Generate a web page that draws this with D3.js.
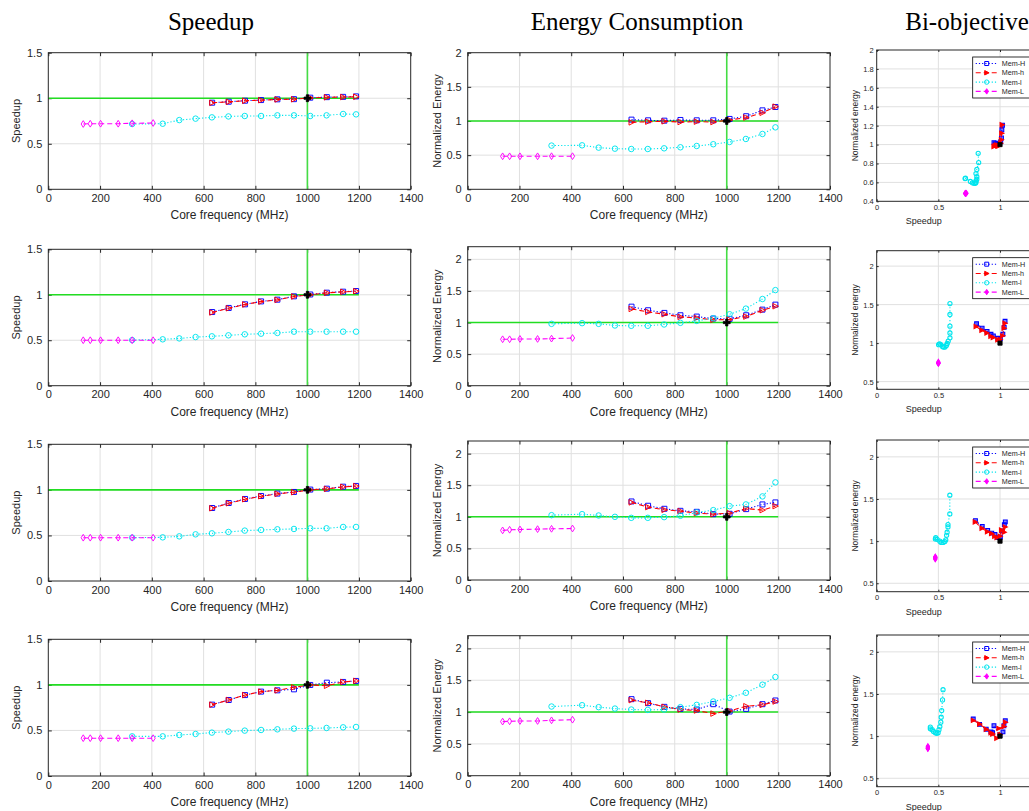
<!DOCTYPE html>
<html><head><meta charset="utf-8">
<script src="https://cdn.jsdelivr.net/npm/d3@7"></script>
<style>body{margin:0;background:#fff}svg{display:block}</style>
</head><body><svg id="c" width="1029" height="811"></svg>
<script>
// ---------- data ----------
const columnTitles = ["Speedup", "Energy Consumption", "Bi-objective"];
const seriesNames = ["Mem-H", "Mem-h", "Mem-l", "Mem-L"];
const freqHigh = [633, 697, 760, 822, 885, 949, 1012, 1076, 1139, 1189]; // Mem-H and Mem-h
const freqMemL = [324, 442, 506, 569, 632, 696, 759, 822, 885, 949, 1012, 1075, 1139, 1189]; // Mem-l
const freqMemLL = [135, 162, 202, 270, 324, 405]; // Mem-L
const defaultFreq = 1001, defaultSpeedup = 1, defaultEnergy = 1;

const speedupH = [
  [0.951, 0.962, 0.973, 0.980, 0.988, 0.990, 1.006, 1.012, 1.015, 1.020],
  [0.810, 0.855, 0.895, 0.927, 0.946, 0.983, 1.003, 1.023, 1.034, 1.041],
  [0.801, 0.856, 0.900, 0.933, 0.959, 0.977, 1.003, 1.013, 1.035, 1.043],
  [0.783, 0.834, 0.888, 0.926, 0.940, 0.951, 0.999, 1.024, 1.032, 1.043]];
const speedupHh = [
  [0.950, 0.960, 0.972, 0.979, 0.987, 0.989, 1.004, 1.010, 1.013, 1.016],
  [0.805, 0.852, 0.893, 0.925, 0.944, 0.981, 1.000, 1.021, 1.032, 1.039],
  [0.798, 0.853, 0.897, 0.930, 0.956, 0.975, 1.000, 1.011, 1.033, 1.041],
  [0.783, 0.834, 0.888, 0.926, 0.940, 0.973, 0.999, 0.990, 1.032, 1.043]];
const speedupl = [
  [0.717, 0.720, 0.760, 0.776, 0.790, 0.800, 0.805, 0.805, 0.812, 0.812, 0.805, 0.812, 0.827, 0.823],
  [0.502, 0.510, 0.520, 0.535, 0.543, 0.554, 0.565, 0.572, 0.580, 0.594, 0.594, 0.594, 0.594, 0.594],
  [0.476, 0.479, 0.490, 0.512, 0.523, 0.538, 0.553, 0.560, 0.567, 0.571, 0.578, 0.578, 0.593, 0.593],
  [0.435, 0.435, 0.450, 0.461, 0.476, 0.487, 0.498, 0.505, 0.512, 0.520, 0.523, 0.527, 0.534, 0.538]];
const speedupL = [
  [0.717, 0.720, 0.720, 0.720, 0.725, 0.728],
  [0.500, 0.500, 0.500, 0.500, 0.500, 0.500],
  [0.475, 0.475, 0.475, 0.475, 0.475, 0.475],
  [0.415, 0.415, 0.415, 0.415, 0.415, 0.415]];

const energyH = [
  [1.020, 1.010, 1.005, 1.015, 1.010, 1.010, 1.030, 1.070, 1.156, 1.205],
  [1.251, 1.194, 1.152, 1.115, 1.094, 1.063, 1.058, 1.115, 1.204, 1.283],
  [1.243, 1.175, 1.127, 1.095, 1.079, 1.042, 1.048, 1.122, 1.196, 1.228],
  [1.203, 1.140, 1.082, 1.050, 1.040, 1.124, 1.008, 1.050, 1.124, 1.182]];
const energyHh = [
  [0.980, 0.990, 0.995, 0.985, 0.990, 0.985, 1.015, 1.050, 1.120, 1.210],
  [1.215, 1.168, 1.131, 1.089, 1.073, 1.042, 1.047, 1.094, 1.194, 1.257],
  [1.228, 1.153, 1.111, 1.090, 1.058, 1.042, 1.058, 1.132, 1.106, 1.169],
  [1.187, 1.145, 1.082, 1.040, 1.024, 0.976, 1.018, 1.092, 1.113, 1.166]];
const energyl = [
  [0.640, 0.644, 0.610, 0.595, 0.590, 0.590, 0.600, 0.615, 0.634, 0.660, 0.693, 0.737, 0.810, 0.907],
  [0.979, 0.990, 0.979, 0.953, 0.948, 0.948, 0.969, 0.995, 1.026, 1.068, 1.131, 1.220, 1.372, 1.513],
  [1.026, 1.042, 1.021, 1.000, 0.984, 0.984, 0.995, 1.016, 1.069, 1.106, 1.169, 1.196, 1.323, 1.545],
  [1.087, 1.108, 1.077, 1.055, 1.040, 1.034, 1.040, 1.077, 1.113, 1.166, 1.224, 1.303, 1.430, 1.551]];
const energyL = [
  [0.483, 0.483, 0.483, 0.483, 0.485, 0.485],
  [0.735, 0.735, 0.740, 0.740, 0.745, 0.755],
  [0.785, 0.795, 0.800, 0.805, 0.810, 0.815],
  [0.850, 0.855, 0.860, 0.860, 0.870, 0.880]];

const freqTicks = [0, 200, 400, 600, 800, 1000, 1200, 1400];
const speedupTicks = [0, 0.5, 1, 1.5];
const energyTicksRow1 = [0, 0.5, 1, 1.5, 2];
const energyTicks = [0, 0.5, 1, 1.5, 2];
const biEnergyTicksRow1 = [0.4, 0.6, 0.8, 1, 1.2, 1.4, 1.6, 1.8, 2];
const biEnergyTicks = [0.5, 1, 1.5, 2];
const biSpeedupTicks = [0, 0.5, 1];

// ---------- layout & style ----------
const svg = d3.select("#c");
const FONT = "'Liberation Sans', Arial, Helvetica, sans-serif";
const TXT = "#262626";
const colX = [[48.3, 410.7], [467.7, 830], [876.7, 1037]];
const rowY = [
  [[52.7, 189.3], [52.7, 189.3], [50, 201.3]],
  [[249.3, 385.7], [246.7, 385.7], [250.7, 389.3]],
  [[444.3, 581], [441, 580], [440, 591.7]],
  [[639.3, 776], [635.7, 775.7], [635, 786.7]]];

const styles = [
  {color: "#0000ff", dash: "1.2,2", sym: "square"},
  {color: "#ff0000", dash: "5,3", sym: "tri"},
  {color: "#00e5ee", dash: "1.2,2", sym: "circle"},
  {color: "#ff00ff", dash: "5,3", sym: "diamond"}];

function markerPath(sym, s) {
  if (sym === "square") return `M${-s},${-s}h${2*s}v${2*s}h${-2*s}Z`;
  if (sym === "tri") return `M${s*1.2},0L${-s},${-s*1.1}L${-s},${s*1.1}Z`;
  if (sym === "diamond") return `M0,${-s*1.35}L${s*0.85},0L0,${s*1.35}L${-s*0.85},0Z`;
  const r = s * 1.1;
  return `M${r},0A${r},${r} 0 1,1 ${-r},0A${r},${r} 0 1,1 ${r},0Z`;
}

// titles
const titleX = [211, 637, 967];
columnTitles.forEach((t, i) => {
  svg.append("text").attr("x", titleX[i]).attr("y", 30).attr("text-anchor", "middle")
    .attr("font-family", "'Liberation Serif', 'DejaVu Serif', serif").attr("font-size", 25)
    .attr("fill", "#000").text(t);
});

function drawPanel(o) {
  const g = svg.append("g");
  const x = d3.scaleLinear().domain(o.xd).range(o.xr);
  const y = d3.scaleLinear().domain(o.yd).range([o.yr[1], o.yr[0]]);
  const [x0, x1] = o.xr, [y0, y1] = o.yr;
  // grid
  g.append("g").selectAll("line").data(o.xt.filter(v => v > o.xd[0] && v < o.xd[1])).join("line")
    .attr("x1", d => x(d)).attr("x2", d => x(d)).attr("y1", y0).attr("y2", y1)
    .attr("stroke", "#e0e0e0").attr("stroke-width", 1);
  g.append("g").selectAll("line").data(o.yt.filter(v => v > o.yd[0] && v < o.yd[1])).join("line")
    .attr("y1", d => y(d)).attr("y2", d => y(d)).attr("x1", x0).attr("x2", x1)
    .attr("stroke", "#e0e0e0").attr("stroke-width", 1);
  // axes (inward ticks, MATLAB box)
  const tl = o.tickLen;
  const fmt = d => String(d);
  const ax = g.append("g").attr("transform", `translate(0,${y1})`)
    .call(d3.axisBottom(x).tickValues(o.xt).tickSizeInner(-tl).tickSizeOuter(0).tickPadding(o.xPad).tickFormat(fmt));
  const ay = g.append("g").attr("transform", `translate(${x0},0)`)
    .call(d3.axisLeft(y).tickValues(o.yt).tickSizeInner(-tl).tickSizeOuter(0).tickPadding(o.yPad).tickFormat(fmt));
  const axt = g.append("g").attr("transform", `translate(0,${y0})`)
    .call(d3.axisTop(x).tickValues(o.xt).tickSizeInner(-tl).tickSizeOuter(0).tickFormat(""));
  const ayr = g.append("g").attr("transform", `translate(${x1},0)`)
    .call(d3.axisRight(y).tickValues(o.yt).tickSizeInner(-tl).tickSizeOuter(0).tickFormat(""));
  [ax, ay, axt, ayr].forEach(a => {
    a.select(".domain").remove();
    a.selectAll("line").attr("stroke", TXT);
    a.selectAll("text").attr("font-family", FONT).attr("font-size", o.tickFont).attr("fill", TXT);
  });
  // green reference lines
  if (o.ref) {
    g.append("line").attr("x1", x(0)).attr("x2", x(1200)).attr("y1", y(1)).attr("y2", y(1))
      .attr("stroke", "#22dd22").attr("stroke-width", 1.6);
    g.append("line").attr("x1", x(defaultFreq)).attr("x2", x(defaultFreq)).attr("y1", y0).attr("y2", y1)
      .attr("stroke", "#44dd44").attr("stroke-width", 1.6);
  }
  // series
  const clip = "clip" + Math.random().toString(36).slice(2);
  svg.append("clipPath").attr("id", clip).append("rect").attr("x", x0).attr("y", y0).attr("width", x1 - x0).attr("height", y1 - y0);
  const sg = g.append("g").attr("clip-path", `url(#${clip})`);
  o.series.forEach((s, i) => {
    const st = styles[i];
    const pts = s.xs.map((v, k) => [x(v), y(s.ys[k])]);
    sg.append("path").attr("d", d3.line()(pts)).attr("fill", "none").attr("stroke", st.color)
      .attr("stroke-width", 1.1).attr("stroke-dasharray", st.dash);
    sg.append("g").selectAll("path").data(pts).join("path")
      .attr("transform", d => `translate(${d[0]},${d[1]})`)
      .attr("d", markerPath(st.sym, o.mk))
      .attr("fill", o.filled && (st.sym === "tri" || st.sym === "diamond" || st.sym === "square") ? st.color : "none")
      .attr("fill-opacity", st.sym === "square" ? 0.5 : 1)
      .attr("stroke", st.color).attr("stroke-width", o.filled ? 1.1 : 0.95);
  });
  // default point (black)
  sg.append("path").attr("transform", `translate(${x(o.def[0])},${y(o.def[1])})`)
    .attr("d", d3.symbol(o.filled ? d3.symbolSquare : d3.symbolCross, o.filled ? 18 : 26)())
    .attr("fill", "#000").attr("stroke", "#000").attr("stroke-width", 0.8);
  // box
  g.append("rect").attr("x", x0).attr("y", y0).attr("width", x1 - x0).attr("height", y1 - y0)
    .attr("fill", "none").attr("stroke", TXT).attr("stroke-width", 1);
  // labels
  g.append("text").attr("x", (x0 + Math.min(x1, 1062)) / 2 + (o.xlShift || 0)).attr("y", y1 + o.xlOff)
    .attr("text-anchor", "middle").attr("font-family", FONT).attr("font-size", o.labelFont)
    .attr("fill", TXT).text(o.xl);
  g.append("text").attr("transform", `translate(${x0 - o.ylOff},${(y0 + y1) / 2}) rotate(-90)`)
    .attr("text-anchor", "middle").attr("font-family", FONT).attr("font-size", o.yLabelFont)
    .attr("fill", TXT).text(o.yl);
  // legend
  if (o.legend) {
    const lx = x0 + 96, ly = y0 + 7;
    g.append("rect").attr("x", lx).attr("y", ly).attr("width", 80).attr("height", 41)
      .attr("fill", "#fff").attr("stroke", "#000").attr("stroke-width", 0.8);
    seriesNames.forEach((n, i) => {
      const st = styles[i], yy = ly + 6.5 + i * 9.3;
      g.append("line").attr("x1", lx + 3).attr("x2", lx + 24).attr("y1", yy).attr("y2", yy)
        .attr("stroke", st.color).attr("stroke-width", 1.1).attr("stroke-dasharray", st.dash);
      g.append("path").attr("transform", `translate(${lx + 14},${yy})`).attr("d", markerPath(st.sym, 2))
        .attr("fill", (st.sym === "tri" || st.sym === "diamond") ? st.color : "none")
        .attr("stroke", st.color).attr("stroke-width", 1);
      g.append("text").attr("x", lx + 29).attr("y", yy + 2.5).attr("font-family", FONT)
        .attr("font-size", 7.2).attr("fill", TXT).text(n);
    });
  }
}

for (let r = 0; r < 4; r++) {
  // Speedup vs frequency
  drawPanel({
    xr: colX[0], yr: rowY[r][0], xd: [0, 1400], yd: [0, 1.5], xt: freqTicks, yt: speedupTicks,
    tickLen: 3.5, tickFont: 11, xPad: 5, yPad: 6, labelFont: 12, yLabelFont: 11, mk: 2.5,
    xl: "Core frequency (MHz)", xlOff: 30, yl: "Speedup", ylOff: 28, ref: true,
    def: [defaultFreq, defaultSpeedup],
    series: [
      {xs: freqHigh, ys: speedupH[r]}, {xs: freqHigh, ys: speedupHh[r]},
      {xs: freqMemL, ys: speedupl[r]}, {xs: freqMemLL, ys: speedupL[r]}]
  });
  // Energy vs frequency
  drawPanel({
    xr: colX[1], yr: rowY[r][1], xd: [0, 1400], yd: r === 0 ? [0, 2] : [0, 2.2],
    xt: freqTicks, yt: r === 0 ? energyTicksRow1 : energyTicks,
    tickLen: 3.5, tickFont: 11, xPad: 5, yPad: 6, labelFont: 12, yLabelFont: 11, mk: 2.5,
    xl: "Core frequency (MHz)", xlOff: 30, yl: "Normalized Energy", ylOff: 27, ref: true,
    def: [defaultFreq, defaultEnergy],
    series: [
      {xs: freqHigh, ys: energyH[r]}, {xs: freqHigh, ys: energyHh[r]},
      {xs: freqMemL, ys: energyl[r]}, {xs: freqMemLL, ys: energyL[r]}]
  });
  // Bi-objective: energy vs speedup
  drawPanel({
    xr: colX[2], yr: rowY[r][2], xd: [0, 1.3], yd: r === 0 ? [0.4, 2] : [0.4, 2.2],
    xt: biSpeedupTicks, yt: r === 0 ? biEnergyTicksRow1 : biEnergyTicks,
    tickLen: 2, tickFont: 7.5, xPad: 3, yPad: 3, labelFont: 9, yLabelFont: 8.5, mk: 1.9,
    xl: "Speedup", xlOff: 23, xlShift: -33, yl: "Normalized energy", ylOff: 19, ref: false,
    filled: true, legend: true, def: [defaultSpeedup, defaultEnergy],
    series: [
      {xs: speedupH[r], ys: energyH[r]}, {xs: speedupHh[r], ys: energyHh[r]},
      {xs: speedupl[r], ys: energyl[r]}, {xs: speedupL[r], ys: energyL[r]}]
  });
}
</script></body></html>
